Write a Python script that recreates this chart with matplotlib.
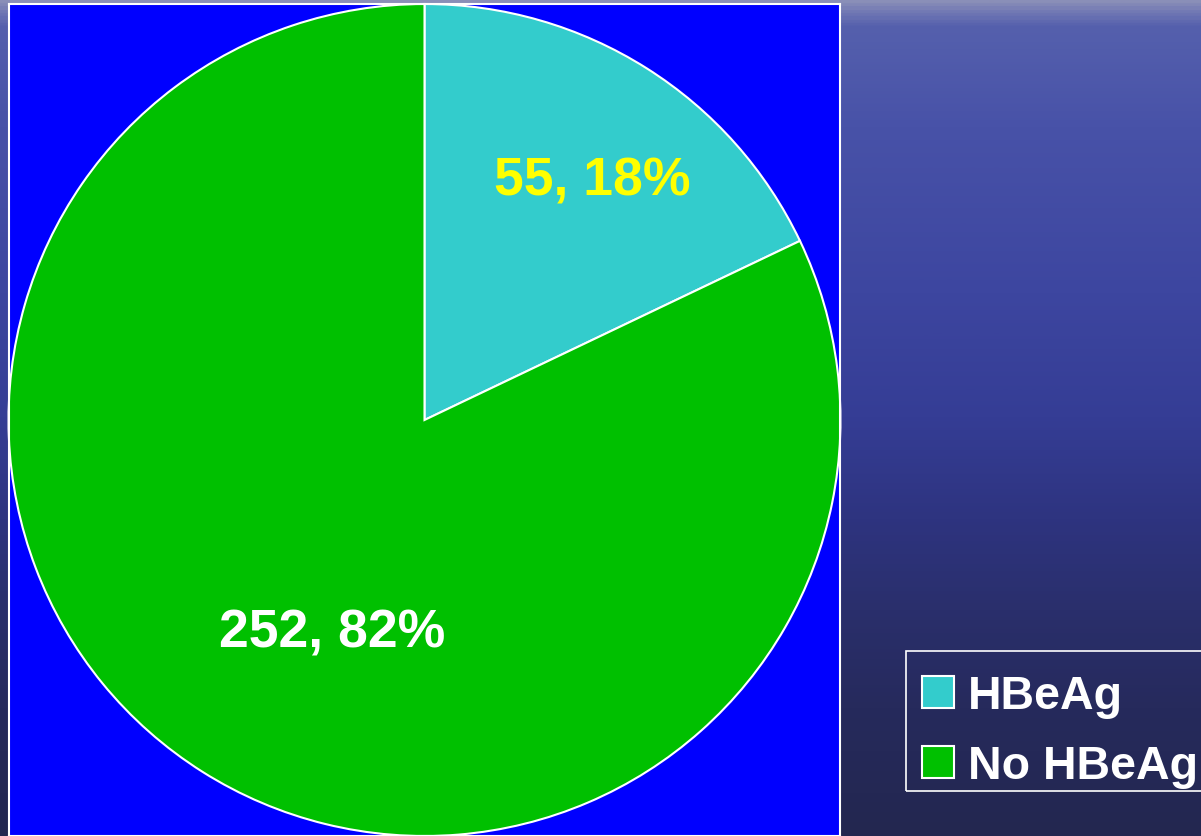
import numpy as np
import matplotlib.pyplot as plt
from matplotlib.colors import LinearSegmentedColormap
from matplotlib.patches import Rectangle

# data
labels = ["HBeAg", "No HBeAg"]
counts = [55, 252]
percents = [18, 82]
colors = ["#33CCCC", "#00C000"]
label_colors = ["#FFFF00", "#FFFFFF"]

plt.rcParams['font.family'] = ['Liberation Sans', 'DejaVu Sans']
plt.rcParams['font.weight'] = 'bold'

W, H = 1201, 837
fig = plt.figure(figsize=(W / 100, H / 100), dpi=100)

# background (sea-like blue gradient)
bg = fig.add_axes([0, 0, 1, 1])
bg_cmap = LinearSegmentedColormap.from_list("sea", [
    (0.00, "#8a8fb8"),
    (0.012, "#7279b4"),
    (0.03, "#5560ad"),
    (0.15, "#4852a8"),
    (0.35, "#3d46a0"),
    (0.50, "#353d95"),
    (0.62, "#2e3480"),
    (0.73, "#2a2f6c"),
    (0.85, "#262a5c"),
    (1.00, "#232750"),
])
grad = np.linspace(0, 1, 600).reshape(-1, 1)
bg.imshow(grad, cmap=bg_cmap, aspect='auto', extent=[0, 1, 0, 1], origin='upper')
bg.axis('off')

# pie box
ax = fig.add_axes([8 / W, 0, 833 / W, 832 / H])
wedges, _ = ax.pie(counts, colors=colors, startangle=90, counterclock=False,
                   radius=1, frame=True,
                   wedgeprops=dict(edgecolor='white', linewidth=1.5))
ax.set_xlim(-1.0, 1.0)
ax.set_ylim(-1.0, 1.0)
ax.set_aspect('equal')
ax.set_facecolor('#0000FF')
ax.set_xticks([])
ax.set_yticks([])
for sp in ax.spines.values():
    sp.set_color('white')
    sp.set_linewidth(1.5)

label_pos = [(0.404, 0.575), (-0.222, -0.512)]
for (x, y), c, p, col in zip(label_pos, counts, percents, label_colors):
    ax.text(x, y, f"{c}, {p}%", color=col, fontsize=38.5, fontweight='bold',
            ha='center', va='center')

# legend (frame drawn separately so the text sits low like the original)
leg = fig.legend(wedges, labels, loc='upper left',
                 bbox_to_anchor=(908 / W, 1 - 661 / H),
                 fontsize=33.5, frameon=False,
                 handlelength=0.68, handleheight=0.68, handletextpad=0.3,
                 labelspacing=0.56, borderpad=0.3, borderaxespad=0)
for t in leg.get_texts():
    t.set_color('white')
    t.set_fontweight('bold')

fig.patches.append(Rectangle((906 / W, 1 - 792 / H), 310 / W, 140 / H,
                             transform=fig.transFigure, fill=False,
                             edgecolor='white', linewidth=1.2))

fig.savefig("out.png", dpi=100)
